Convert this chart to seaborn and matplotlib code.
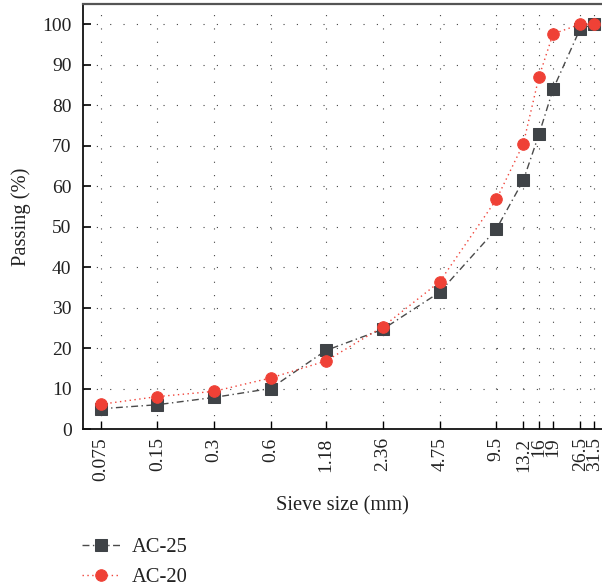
import matplotlib
matplotlib.use("Agg")
import matplotlib.pyplot as plt
import seaborn as sns
import pandas as pd
from matplotlib.ticker import FixedLocator, FixedFormatter, NullLocator

sieve = [0.075, 0.15, 0.3, 0.6, 1.18, 2.36, 4.75, 9.5, 13.2, 16, 19, 26.5, 31.5]
sieve_labels = ["0.075", "0.15", "0.3", "0.6", "1.18", "2.36", "4.75", "9.5", "13.2", "16", "19", "26.5", "31.5"]
ac25 = [5.0, 6.0, 7.8, 10.0, 19.4, 24.6, 33.8, 49.4, 61.4, 72.8, 83.9, 98.9, 100.0]
ac20 = [6.1, 8.0, 9.3, 12.6, 16.8, 25.2, 36.4, 56.7, 70.4, 87.0, 97.6, 100.0, 100.0]
yticks = [0, 10, 20, 30, 40, 50, 60, 70, 80, 90, 100]

sns.set_theme(style="white")
plt.rcParams["font.family"] = ["Liberation Serif", "DejaVu Serif"]
plt.rcParams["font.size"] = 14

df25 = pd.DataFrame({"x": sieve, "y": ac25})
df20 = pd.DataFrame({"x": sieve, "y": ac20})

fig = plt.figure(figsize=(6.02, 5.88), dpi=100)
ax = fig.add_axes([82.7 / 602, (588 - 429) / 588, (602 - 82.7) / 602, (429 - 4) / 588])

ax.set_xscale("log")
ax.set_xlim(0.0602, 34.6)
ax.set_ylim(0, 105)

grid_kw = dict(color="#444444", linewidth=0.8, linestyle=(0, (1, 11)), zorder=0)
for v in yticks:
    ax.axhline(v, **grid_kw)
for s in sieve:
    ax.axvline(s, **grid_kw)

sns.lineplot(data=df25, x="x", y="y", ax=ax, color="#4a4a4a", linewidth=1.0,
             linestyle=(0, (5, 2.5, 1, 2.5)), marker="s", markersize=8,
             markerfacecolor="#3f4347", markeredgecolor="#3f4347",
             label="AC-25", zorder=3, clip_on=False)
sns.lineplot(data=df20, x="x", y="y", ax=ax, color="#f0443a", linewidth=1.0,
             linestyle=(0, (1, 2.5)), marker="o", markersize=8.3,
             markerfacecolor="#ef4136", markeredgecolor="#ef4136",
             label="AC-20", zorder=4, clip_on=False)

ax.xaxis.set_major_locator(FixedLocator(sieve))
ax.xaxis.set_major_formatter(FixedFormatter(sieve_labels))
ax.xaxis.set_minor_locator(NullLocator())
ax.set_yticks(yticks)
ax.tick_params(axis="x", direction="in", length=6, width=1.0, color="black",
               labelrotation=90, pad=6, labelsize=14, bottom=True)
ax.tick_params(axis="y", direction="in", length=6, width=1.2, color="black",
               pad=8, labelsize=14, left=True)

for lab in ax.get_yticklabels() + ax.get_xticklabels():
    lab.set_color("#222222")

ax.spines["right"].set_visible(False)
ax.spines["top"].set_color("#555555")
ax.spines["top"].set_linewidth(1.6)
for sp in ["left", "bottom"]:
    ax.spines[sp].set_color("#111111")
    ax.spines[sp].set_linewidth(1.3)

ax.set_xlabel("Sieve size (mm)", fontsize=14.8, color="#222222")
ax.set_ylabel("Passing (%)", fontsize=14.8, color="#222222")
ax.xaxis.set_label_coords(0.5, -0.158)
ax.yaxis.set_label_coords(-0.1, 0.5)

ax.get_legend().remove()
h, l = ax.get_legend_handles_labels()
fig.legend(h, l, loc="upper left", bbox_to_anchor=(82 / 602, 1 - 538 / 588),
           frameon=False, borderpad=0, borderaxespad=0, handlelength=1.85,
           handletextpad=0.55, labelspacing=0.5, fontsize=14.8, numpoints=1,
           labelcolor="#222222")

fig.savefig("out.png", dpi=100)
